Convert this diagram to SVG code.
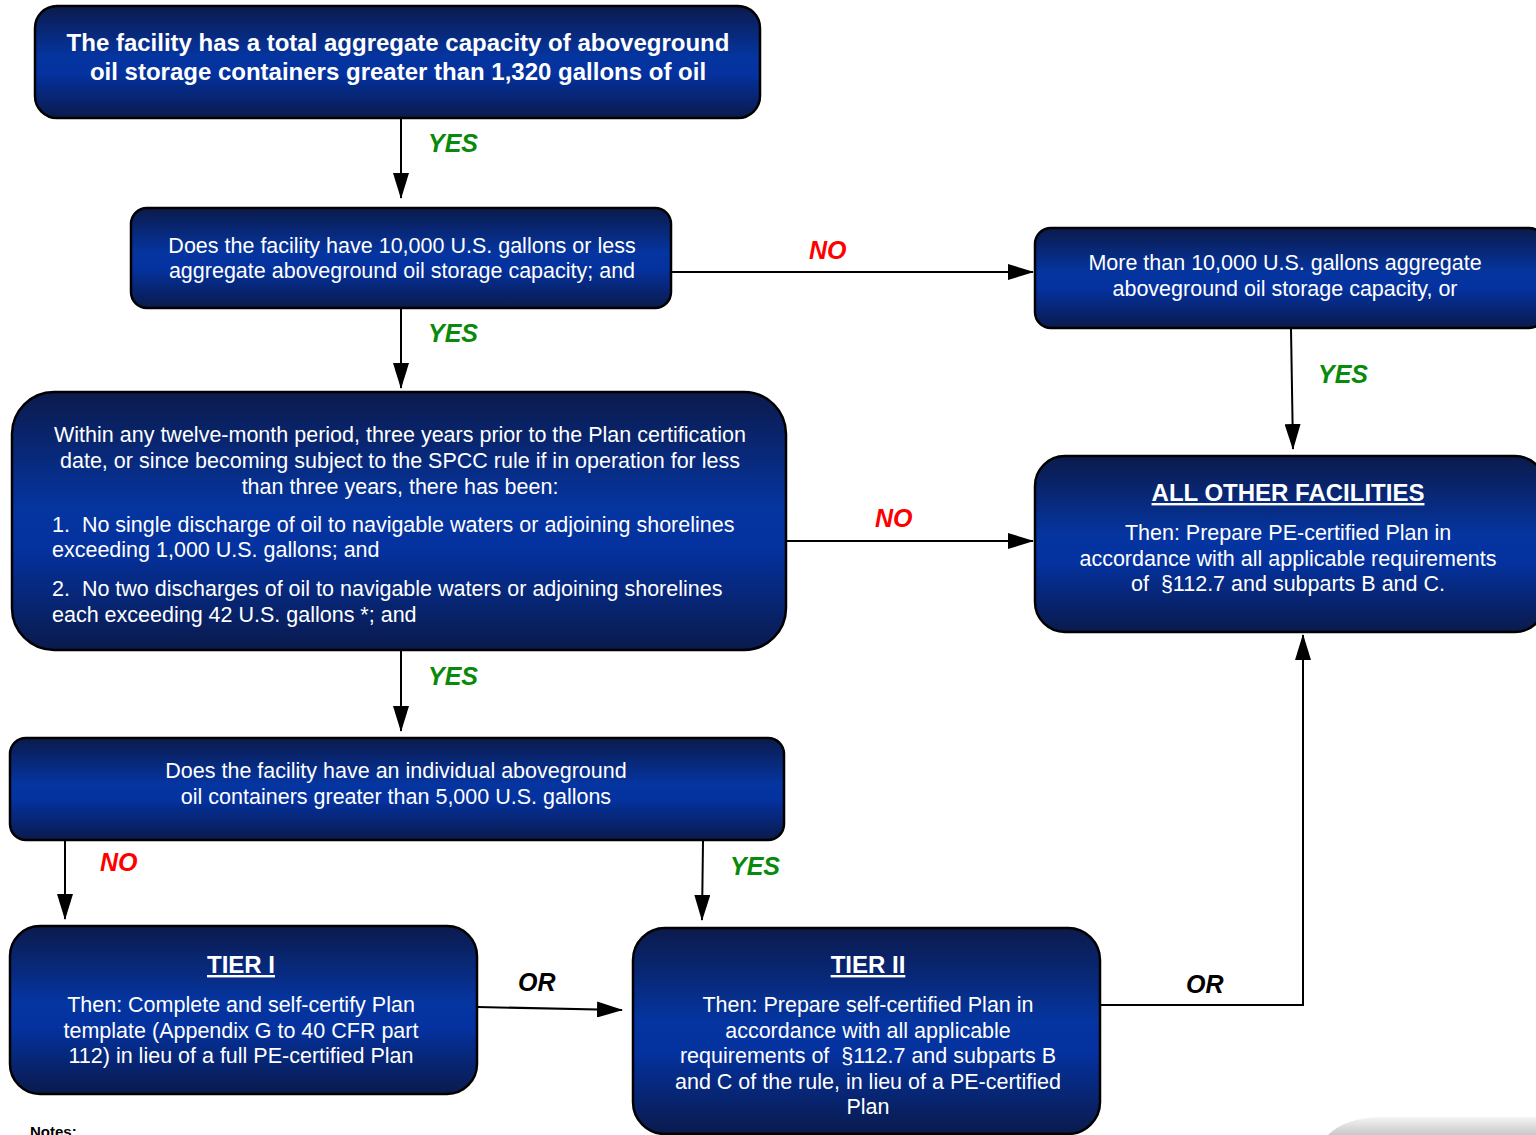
<svg xmlns="http://www.w3.org/2000/svg" width="1536" height="1135" viewBox="0 0 1536 1135">
<defs>
<linearGradient id="bg" x1="0" y1="0" x2="0" y2="1">
<stop offset="0" stop-color="#0b1a4c"/>
<stop offset="0.45" stop-color="#0535a0"/>
<stop offset="0.6" stop-color="#0432a0"/>
<stop offset="1" stop-color="#0a1a4c"/>
</linearGradient>
<linearGradient id="gray" x1="0" y1="0" x2="0" y2="1">
<stop offset="0" stop-color="#f4f4f4"/>
<stop offset="1" stop-color="#c8c8c8"/>
</linearGradient>
<marker id="ah" markerWidth="26" markerHeight="16" refX="25" refY="8" orient="auto" markerUnits="userSpaceOnUse">
<path d="M0,0 L26,8 L0,16 Z" fill="#000"/>
</marker>
<style>
.box{fill:url(#bg);stroke:#000;stroke-width:2.5}
.t{font-family:"Liberation Sans",Arial,sans-serif;fill:#fff;font-size:21.5px;white-space:pre}
.tb{font-family:"Liberation Sans",Arial,sans-serif;fill:#fff;font-size:24px;font-weight:bold}
.h{font-family:"Liberation Sans",Arial,sans-serif;fill:#fff;font-size:24px;font-weight:bold;text-decoration:underline}
.c{stroke:#000;stroke-width:2;fill:none}
.yes{font-family:"Liberation Sans",Arial,sans-serif;fill:#0a8a0a;font-size:25px;font-weight:bold;font-style:italic}
.no{font-family:"Liberation Sans",Arial,sans-serif;fill:#ff0000;font-size:25px;font-weight:bold;font-style:italic}
.or{font-family:"Liberation Sans",Arial,sans-serif;fill:#000;font-size:25px;font-weight:bold;font-style:italic}
</style>
</defs>
<rect width="1536" height="1135" fill="#fff"/>

<g id="connectors">
<line class="c" x1="401" y1="119" x2="401" y2="198" marker-end="url(#ah)"/>
<line class="c" x1="401" y1="309" x2="401" y2="388" marker-end="url(#ah)"/>
<line class="c" x1="671" y1="272" x2="1033" y2="272" marker-end="url(#ah)"/>
<line class="c" x1="1291" y1="329" x2="1293" y2="449" marker-end="url(#ah)"/>
<line class="c" x1="786" y1="541" x2="1033" y2="541" marker-end="url(#ah)"/>
<line class="c" x1="401" y1="651" x2="401" y2="731" marker-end="url(#ah)"/>
<line class="c" x1="65" y1="841" x2="65" y2="919" marker-end="url(#ah)"/>
<line class="c" x1="703" y1="841" x2="702" y2="920" marker-end="url(#ah)"/>
<line class="c" x1="478" y1="1007" x2="622" y2="1010" marker-end="url(#ah)"/>
<polyline class="c" points="1101,1005 1303,1005 1303,635" marker-end="url(#ah)"/>
<text class="yes" x="428" y="152">YES</text>
<text class="yes" x="428" y="342">YES</text>
<text class="no" x="809" y="259">NO</text>
<text class="yes" x="1318" y="383">YES</text>
<text class="no" x="875" y="527">NO</text>
<text class="yes" x="428" y="685">YES</text>
<text class="no" x="100" y="871">NO</text>
<text class="yes" x="730" y="875">YES</text>
<text class="or" x="518" y="991">OR</text>
<text class="or" x="1186" y="993">OR</text>
</g>

<g id="n1">
<rect class="box" x="35" y="6" width="725" height="112" rx="22"/>
<text class="tb" text-anchor="middle" x="398" y="51">The facility has a total aggregate capacity of aboveground</text>
<text class="tb" text-anchor="middle" x="398" y="80">oil storage containers greater than 1,320 gallons of oil</text>
</g>

<g id="n2">
<rect class="box" x="131" y="208" width="540" height="100" rx="16"/>
<text class="t" text-anchor="middle" x="402" y="253">Does the facility have 10,000 U.S. gallons or less</text>
<text class="t" text-anchor="middle" x="402" y="278">aggregate aboveground oil storage capacity; and</text>
</g>

<g id="n3">
<rect class="box" x="1035" y="228" width="510" height="100" rx="16"/>
<text class="t" text-anchor="middle" x="1285" y="270">More than 10,000 U.S. gallons aggregate</text>
<text class="t" text-anchor="middle" x="1285" y="296">aboveground oil storage capacity, or</text>
</g>

<g id="n4">
<rect class="box" x="1035" y="456" width="510" height="176" rx="30"/>
<text class="h" text-anchor="middle" x="1288" y="501">ALL OTHER FACILITIES</text>
<text class="t" text-anchor="middle" x="1288" y="540">Then: Prepare PE-certified Plan in</text>
<text class="t" text-anchor="middle" x="1288" y="566">accordance with all applicable requirements</text>
<text class="t" text-anchor="middle" x="1288" y="591">of  §112.7 and subparts B and C.</text>
</g>

<g id="n5">
<rect class="box" x="12" y="392" width="774" height="258" rx="42"/>
<text class="t" text-anchor="middle" x="400" y="442">Within any twelve-month period, three years prior to the Plan certification</text>
<text class="t" text-anchor="middle" x="400" y="468">date, or since becoming subject to the SPCC rule if in operation for less</text>
<text class="t" text-anchor="middle" x="400" y="494">than three years, there has been:</text>
<text class="t" x="52" y="532">1.  No single discharge of oil to navigable waters or adjoining shorelines</text>
<text class="t" x="52" y="557">exceeding 1,000 U.S. gallons; and</text>
<text class="t" x="52" y="596">2.  No two discharges of oil to navigable waters or adjoining shorelines</text>
<text class="t" x="52" y="622">each exceeding 42 U.S. gallons *; and</text>
</g>

<g id="n6">
<rect class="box" x="10" y="738" width="774" height="102" rx="16"/>
<text class="t" text-anchor="middle" x="396" y="778">Does the facility have an individual aboveground</text>
<text class="t" text-anchor="middle" x="396" y="804">oil containers greater than 5,000 U.S. gallons</text>
</g>

<g id="n7">
<rect class="box" x="10" y="926" width="467" height="168" rx="30"/>
<text class="h" text-anchor="middle" x="241" y="973">TIER I</text>
<text class="t" text-anchor="middle" x="241" y="1012">Then: Complete and self-certify Plan</text>
<text class="t" text-anchor="middle" x="241" y="1038">template (Appendix G to 40 CFR part</text>
<text class="t" text-anchor="middle" x="241" y="1063">112) in lieu of a full PE-certified Plan</text>
</g>

<g id="n8">
<rect class="box" x="633" y="928" width="467" height="206" rx="32"/>
<text class="h" text-anchor="middle" x="868" y="973">TIER II</text>
<text class="t" text-anchor="middle" x="868" y="1012">Then: Prepare self-certified Plan in</text>
<text class="t" text-anchor="middle" x="868" y="1038">accordance with all applicable</text>
<text class="t" text-anchor="middle" x="868" y="1063">requirements of  §112.7 and subparts B</text>
<text class="t" text-anchor="middle" x="868" y="1089">and C of the rule, in lieu of a PE-certified</text>
<text class="t" text-anchor="middle" x="868" y="1114">Plan</text>
</g>

<text x="30" y="1137" font-family="Liberation Sans, Arial, sans-serif" font-size="15" font-weight="bold" fill="#000">Notes:</text>
<path d="M1328,1135 Q1345,1118 1380,1117 L1536,1117 L1536,1135 Z" fill="url(#gray)"/>
</svg>
